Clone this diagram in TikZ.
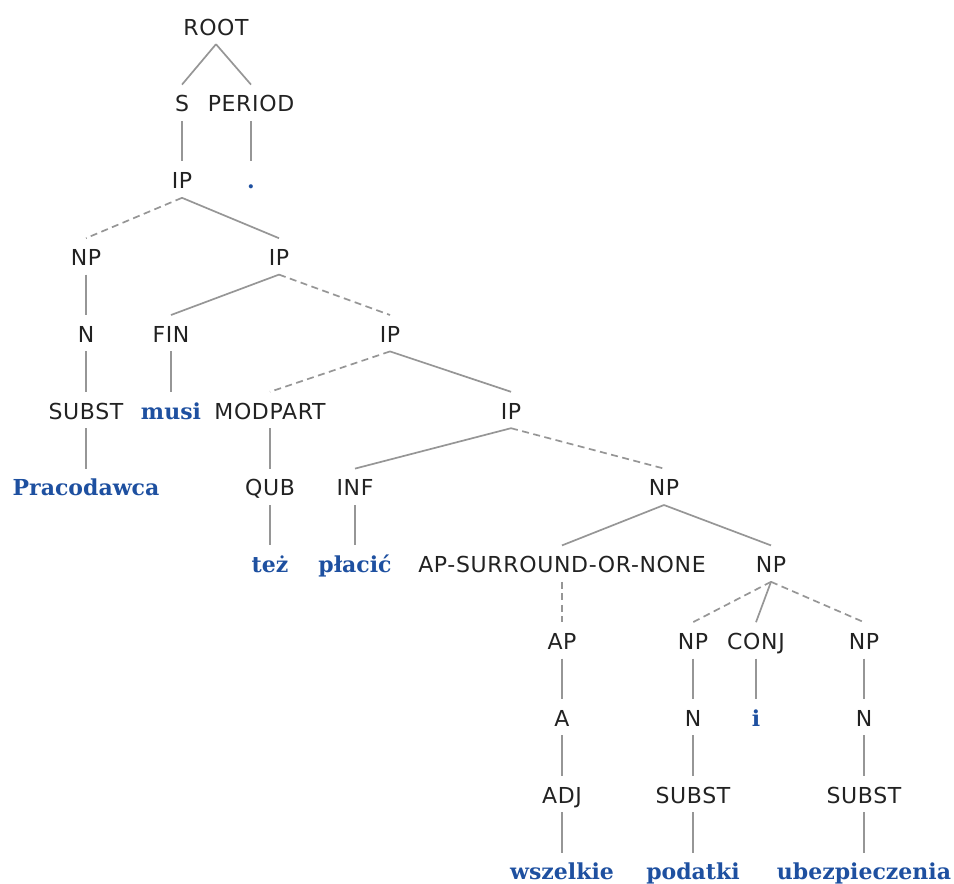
\documentclass[tikz,border=0pt]{standalone}
\usepackage{fontspec}
\usepackage{xcolor}
\usepackage{tikz}

\newfontfamily\catfont[LetterSpace=3]{DejaVu Sans}
\newfontfamily\wordfont{DejaVu Serif}

\definecolor{wordblue}{RGB}{30,80,160}
\definecolor{linegray}{RGB}{150,150,150}
\definecolor{catgray}{RGB}{34,34,34}

\tikzset{
  cat/.style={anchor=base, inner sep=0pt, text height=27pt, text depth=9pt,
    text=catgray, font=\catfont\fontsize{22}{26}\selectfont},
  word/.style={cat, text=wordblue, font=\wordfont\bfseries\fontsize{22}{26}\selectfont},
  branch/.style={draw=linegray, line width=1.7pt},
  optbranch/.style={branch, dash pattern=on 7pt off 4.5pt},
}

\begin{document}
\begin{tikzpicture}[x=1pt, y=-1pt]

\useasboundingbox (0,0) rectangle (954,884);

%-- top of the tree
\node[cat] (root)   at (216, 35.0) {ROOT};
\node[cat] (s)      at (182,111.8) {S};
\node[cat] (period) at (251,111.8) {PERIOD};
\node[cat] (ip1)    at (182,188.6) {IP};
\node[word] (dot)   at (251,188.6) {.};

%-- subject and first IP
\node[cat] (np1)    at ( 86,265.4) {NP};
\node[cat] (ip2)    at (279,265.4) {IP};
\node[cat] (n1)     at ( 86,342.2) {N};
\node[cat] (fin)    at (171,342.2) {FIN};
\node[cat] (ip3)    at (390,342.2) {IP};
\node[cat] (subst1) at ( 86,419.0) {SUBST};
\node[word] (musi)  at (171,419.0) {musi};
\node[cat] (modpart) at (270,419.0) {MODPART};
\node[cat] (ip4)    at (511,419.0) {IP};
\node[word] (pracodawca) at (86,495.8) {Pracodawca};
\node[cat] (qub)    at (270,495.8) {QUB};
\node[cat] (inf)    at (355,495.8) {INF};
\node[cat] (np2)    at (664,495.8) {NP};
\node[word] (tez)   at (270,572.6) {też};
\node[word] (placic) at (355,572.6) {płacić};

%-- object NP
\node[cat] (apsur)  at (562,572.6) {AP-SURROUND-OR-NONE};
\node[cat] (np3)    at (771,572.6) {NP};
\node[cat] (ap)     at (562,649.4) {AP};
\node[cat] (np4)    at (693,649.4) {NP};
\node[cat] (conj)   at (756,649.4) {CONJ};
\node[cat] (np5)    at (864,649.4) {NP};
\node[cat] (a)      at (562,726.2) {A};
\node[cat] (n2)     at (693,726.2) {N};
\node[word] (iword) at (756,726.2) {i};
\node[cat] (n3)     at (864,726.2) {N};
\node[cat] (adj)    at (562,803.0) {ADJ};
\node[cat] (subst2) at (693,803.0) {SUBST};
\node[cat] (subst3) at (864,803.0) {SUBST};
\node[word] (wszelkie) at (562,879.8) {wszelkie};
\node[word] (podatki)  at (693,879.8) {podatki};
\node[word] (ubezp)    at (864,879.8) {ubezpieczenia};

%-- solid branches
\foreach \p/\c in {root/s, root/period, s/ip1, period/dot, ip1/ip2,
    np1/n1, n1/subst1, subst1/pracodawca, ip2/fin, fin/musi, ip3/ip4,
    modpart/qub, qub/tez, ip4/inf, inf/placic, np2/apsur, np2/np3,
    np3/conj, conj/iword, ap/a, a/adj, adj/wszelkie, np4/n2, n2/subst2,
    subst2/podatki, np5/n3, n3/subst3, subst3/ubezp}
  \draw[branch] (\p.south) -- (\c.north);

%-- dashed branches
\foreach \p/\c in {ip1/np1, ip2/ip3, ip3/modpart, ip4/np2, apsur/ap,
    np3/np4, np3/np5}
  \draw[optbranch] (\p.south) -- (\c.north);

\end{tikzpicture}
\end{document}
